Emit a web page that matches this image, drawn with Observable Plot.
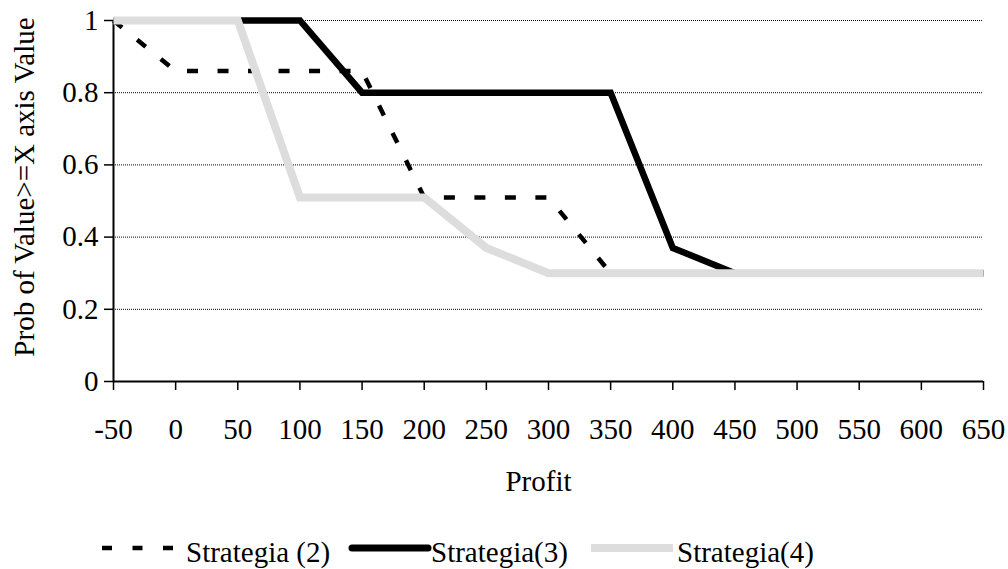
<!DOCTYPE html>
<html>
<head>
<meta charset="utf-8">
<script src="https://cdn.jsdelivr.net/npm/d3@7"></script>
<script src="https://cdn.jsdelivr.net/npm/@observablehq/plot@0.6"></script>
<style>
  html, body { margin: 0; padding: 0; background: #fff; }
  #chart svg { display: block; }
  #legend { display: block; }
  #chart text, #legend text { font-family: Liberation Serif; }
</style>
</head>
<body>
<div id="chart"></div>
<svg id="legend" width="1008" height="39"></svg>
<script>
// ---- data ----
const profit = [-50, 0, 50, 100, 150, 200, 250, 300, 350, 400, 450, 500, 550, 600, 650];
const strategia2 = [1, 0.86, 0.86, 0.86, 0.86, 0.51, 0.51, 0.51, 0.30, 0.30, 0.30, 0.30, 0.30, 0.30, 0.30];
const strategia3 = [1, 1, 1, 1, 0.80, 0.80, 0.80, 0.80, 0.80, 0.37, 0.30, 0.30, 0.30, 0.30, 0.30];
const strategia4 = [1, 1, 1, 0.51, 0.51, 0.51, 0.37, 0.30, 0.30, 0.30, 0.30, 0.30, 0.30, 0.30, 0.30];
const yTicks = [0, 0.2, 0.4, 0.6, 0.8, 1];
const seriesNames = ["Strategia (2)", "Strategia(3)", "Strategia(4)"];
const xLabel = "Profit";
const yLabel = "Prob of Value>=X axis Value";

const table = profit.map((p, i) => ({profit: p, s2: strategia2[i], s3: strategia3[i], s4: strategia4[i]}));

const FONT = "Liberation Serif";
const FS = 29;

const chart = Plot.plot({
  width: 1008,
  height: 530,
  marginLeft: 113,
  marginRight: 25,
  marginTop: 20,
  marginBottom: 149,
  style: {fontFamily: FONT, fontSize: FS + "px", color: "#000", background: "#fff"},
  x: {domain: [-50, 650]},
  y: {domain: [0, 1]},
  marks: [
    Plot.ruleY(yTicks.filter(d => d > 0), {stroke: "#000", strokeWidth: 1, strokeDasharray: "1,1"}),
    Plot.axisX({ticks: profit, tickFormat: d => String(d), tickSize: 9, tickPadding: 28, label: null, stroke: "#000", strokeWidth: 1.5, fontFamily: FONT}),
    Plot.axisY({ticks: yTicks, tickFormat: d => String(d), tickSize: 9, tickPadding: 6, label: null, stroke: "#000", strokeWidth: 1.5, fontFamily: FONT}),
    Plot.ruleY([0], {stroke: "#000", strokeWidth: 2}),
    Plot.ruleX([-50], {stroke: "#000", strokeWidth: 2}),
    Plot.line(table, {x: "profit", y: "s2", stroke: "#000", strokeWidth: 4.5, strokeDasharray: "11,19.5", strokeLinecap: "butt", strokeLinejoin: "miter", strokeMiterlimit: 4}),
    Plot.line(table, {x: "profit", y: "s3", stroke: "#000", strokeWidth: 6.5, strokeLinecap: "butt", strokeLinejoin: "miter", strokeMiterlimit: 4}),
    Plot.line(table, {x: "profit", y: "s4", stroke: "#dddddd", strokeWidth: 8, strokeLinecap: "butt", strokeLinejoin: "miter", strokeMiterlimit: 4}),
    Plot.text([yLabel], {text: d => d, frameAnchor: "left", textAnchor: "middle", rotate: -90, dx: -89, dy: -14, lineAnchor: "middle", fontSize: FS, fontFamily: FONT, fill: "#000"}),
    Plot.text([xLabel], {text: d => d, frameAnchor: "bottom", textAnchor: "middle", dx: -10, dy: 100, lineAnchor: "middle", fontSize: FS, fontFamily: FONT, fill: "#000"})
  ]
});
document.getElementById("chart").appendChild(chart);

// ---- legend (below the plot) ----
const legend = d3.select("#legend");
const legendItems = [
  {name: seriesNames[0], stroke: "#000", width: 4.5, dash: "10,20.5", cap: "butt", x0: 102, x1: 173, tx: 186},
  {name: seriesNames[1], stroke: "#000", width: 7, dash: null, cap: "round", x0: 352, x1: 428, tx: 431},
  {name: seriesNames[2], stroke: "#dddddd", width: 8, dash: null, cap: "butt", x0: 591, x1: 673, tx: 677}
];
legendItems.forEach(it => {
  const l = legend.append("line")
    .attr("x1", it.x0).attr("x2", it.x1).attr("y1", 18).attr("y2", 18)
    .attr("stroke", it.stroke).attr("stroke-width", it.width)
    .attr("stroke-linecap", it.cap);
  if (it.dash) l.attr("stroke-dasharray", it.dash);
  legend.append("text").attr("x", it.tx).attr("y", 32)
    .attr("font-family", FONT).attr("font-size", FS).attr("fill", "#000")
    .text(it.name);
});
</script>
</body>
</html>
